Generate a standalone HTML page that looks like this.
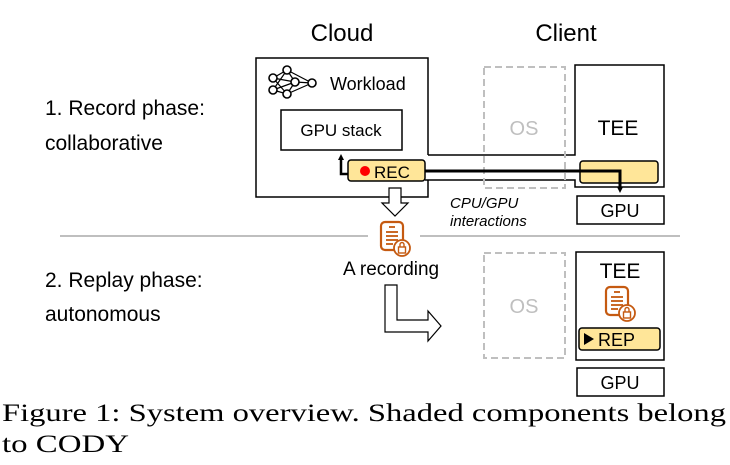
<!DOCTYPE html>
<html><head><style>
html,body{margin:0;padding:0;background:#fff;width:730px;height:465px;overflow:hidden}
svg{display:block}
.s{font-family:"Liberation Sans",sans-serif}
</style></head><body>
<svg width="730" height="465" viewBox="0 0 730 465" xmlns="http://www.w3.org/2000/svg">
<defs>
<marker id="ah" markerWidth="6" markerHeight="6" refX="3" refY="3" orient="auto" markerUnits="userSpaceOnUse"><path d="M0,0 L6,3 L0,6 z" fill="#000"/></marker>
<g id="doc">
<rect x="0" y="0" width="22" height="28" rx="4" fill="none" stroke="#c55a11" stroke-width="2.2"/>
<line x1="8" y1="5" x2="14" y2="5" stroke="#c55a11" stroke-width="1.8"/>
<line x1="5" y1="10" x2="17" y2="10" stroke="#c55a11" stroke-width="1.8"/>
<line x1="5" y1="14" x2="17" y2="14" stroke="#c55a11" stroke-width="1.8"/>
<line x1="5" y1="18" x2="17" y2="18" stroke="#c55a11" stroke-width="1.8"/>
<line x1="5" y1="22" x2="12" y2="22" stroke="#c55a11" stroke-width="1.8"/>
<circle cx="21" cy="26" r="8" fill="#fff" stroke="#c55a11" stroke-width="1.8"/>
<rect x="17.5" y="25" width="7" height="6" fill="none" stroke="#c55a11" stroke-width="1.4"/>
<path d="M19,25 v-2.5 a2,2 0 0 1 4,0 v2.5" fill="none" stroke="#c55a11" stroke-width="1.4"/>
</g>
</defs>
<g class="s">
<text x="342" y="41" font-size="24" text-anchor="middle">Cloud</text>
<text x="566" y="41" font-size="24" text-anchor="middle">Client</text>
<text x="45" y="115" font-size="21">1. Record phase:</text>
<text x="45" y="150" font-size="21">collaborative</text>
<text x="45" y="287" font-size="21">2. Replay phase:</text>
<text x="45" y="321" font-size="21">autonomous</text>
</g>
<line x1="60" y1="236" x2="368" y2="236" stroke="#bfbfbf" stroke-width="2"/>
<line x1="420" y1="236" x2="680" y2="236" stroke="#bfbfbf" stroke-width="2"/>
<path d="M428,155 V58 H256 V197 H428 V180" fill="none" stroke="#000" stroke-width="1.5"/>
<path d="M428,155 H575 V65 H664 V187 H575 V180 H425" fill="none" stroke="#000" stroke-width="1.5"/>
<rect x="484" y="67" width="81" height="121" fill="none" stroke="#bfbfbf" stroke-width="2" stroke-dasharray="7,4"/>
<text x="524" y="135" class="s" font-size="20" fill="#bfbfbf" text-anchor="middle">OS</text>
<text x="618" y="135" class="s" font-size="21" text-anchor="middle">TEE</text>
<g fill="#fff" stroke="#000" stroke-width="1.6">
<g stroke-width="1.2">
<line x1="273" y1="78" x2="287" y2="70"/><line x1="273" y1="78" x2="295" y2="82"/><line x1="273" y1="78" x2="287" y2="94"/>
<line x1="273" y1="90" x2="287" y2="70"/><line x1="273" y1="90" x2="295" y2="82"/><line x1="273" y1="90" x2="287" y2="94"/>
<line x1="287" y1="70" x2="312" y2="83"/><line x1="295" y1="82" x2="312" y2="83"/><line x1="287" y1="94" x2="312" y2="83"/>
<line x1="287" y1="70" x2="295" y2="82"/><line x1="287" y1="94" x2="295" y2="82"/>
</g>
<circle cx="273" cy="78" r="4"/><circle cx="273" cy="90" r="4"/>
<circle cx="287" cy="70" r="4"/><circle cx="295" cy="82" r="4"/><circle cx="287" cy="94" r="4"/>
<circle cx="312" cy="83" r="4"/>
</g>
<text x="330" y="90" class="s" font-size="18">Workload</text>
<rect x="281" y="110" width="121" height="40" fill="#fff" stroke="#000" stroke-width="1.5"/>
<text x="341" y="136" class="s" font-size="17" text-anchor="middle">GPU stack</text>
<rect x="348" y="160" width="77" height="21" rx="3" fill="#ffe699" stroke="#000" stroke-width="1.5"/>
<circle cx="365" cy="171" r="5" fill="#f00"/>
<text x="374" y="178" class="s" font-size="17">REC</text>
<path d="M348,174 H341 V157" fill="none" stroke="#000" stroke-width="2.5" marker-end="url(#ah)"/>
<rect x="580" y="161" width="78" height="22" rx="3" fill="#ffe699" stroke="#000" stroke-width="1.5"/>
<path d="M425,171 H620 V190" fill="none" stroke="#000" stroke-width="3" marker-end="url(#ah)"/>
<rect x="577" y="196" width="87" height="28" fill="#fff" stroke="#000" stroke-width="1.5"/>
<text x="620" y="217" class="s" font-size="18" text-anchor="middle">GPU</text>
<text x="450" y="208" class="s" font-size="15" font-style="italic">CPU/GPU</text>
<text x="450" y="226" class="s" font-size="15" font-style="italic">interactions</text>
<path d="M389,188 H401 V203 H408 L395,216 L382,203 H389 Z" fill="#fff" stroke="#000" stroke-width="1.2"/>
<use href="#doc" x="381" y="222"/>
<text x="343" y="275" class="s" font-size="19">A recording</text>
<path d="M385,285 H397 V320 H428 V311 L441,326 L428,341 V332 H385 Z" fill="#fff" stroke="#000" stroke-width="1.2"/>
<rect x="484" y="253" width="81" height="105" fill="none" stroke="#bfbfbf" stroke-width="2" stroke-dasharray="7,4"/>
<text x="524" y="313" class="s" font-size="20" fill="#bfbfbf" text-anchor="middle">OS</text>
<rect x="576" y="252" width="88" height="108" fill="#fff" stroke="#000" stroke-width="1.5"/>
<text x="620" y="278" class="s" font-size="21" text-anchor="middle">TEE</text>
<use href="#doc" x="606" y="287"/>
<rect x="579" y="328" width="81" height="22" rx="3" fill="#ffe699" stroke="#000" stroke-width="1.5"/>
<path d="M584,333 L594,339 L584,345 Z" fill="#000"/>
<text x="598" y="346" class="s" font-size="18">REP</text>
<rect x="577" y="368" width="87" height="28" fill="#fff" stroke="#000" stroke-width="1.5"/>
<text x="620" y="389" class="s" font-size="18" text-anchor="middle">GPU</text>
<g font-family="Liberation Serif, serif" font-size="25">
<text x="2" y="421" textLength="724" lengthAdjust="spacingAndGlyphs">Figure 1: System overview. Shaded components belong</text>
<text x="2" y="452" textLength="127" lengthAdjust="spacingAndGlyphs">to CODY</text>
</g>
</svg>
</body></html>
